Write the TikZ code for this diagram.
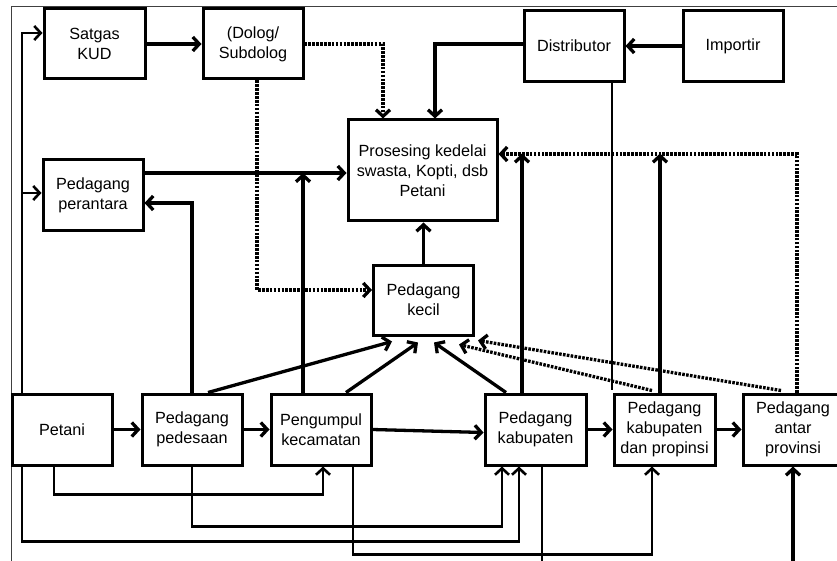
\documentclass[tikz,border=0pt]{standalone}
\usepackage{fontspec}
\setmainfont{Liberation Sans}
\usetikzlibrary{arrows.meta}

\begin{document}
\begin{tikzpicture}[
        x=1pt, y=-1pt,
        unit/.style={draw, line width=3pt, fill=white, align=center, inner sep=0pt,
            minimum width=100pt, minimum height=71pt, font=\fontsize{16.2}{20}\selectfont},
        flow/.style={line width=3.3pt, -{Straight Barb[length=6.5pt,width=14pt]}},
        thinflow/.style={line width=2.6pt, -{Straight Barb[length=6.5pt,width=14pt]}},
        plainline/.style={line width=2.6pt},
        dotflow/.style={line width=3.3pt, dash pattern=on 2.6pt off 1.3pt,
            -{Straight Barb[length=6.5pt,width=14pt]}} % dotted supply lines
    ]

    \path[use as bounding box] (0,0) rectangle (837,561);
    \clip (0,0) rectangle (837,561);

    % --- Frame ---
    \draw[line width=1pt, black!75] (837,7) -| (11,561);

    % --- Define Boxes ---
    % Top row
    \node[unit, minimum width=101pt, minimum height=70pt] (satgas) at (94.5,44) {Satgas\\KUD};
    \node[unit, minimum height=70pt] (dolog) at (253,44) {(Dolog/\\Subdolog};
    \node[unit] (dist) at (574,46) {Distributor};
    \node[unit] (imp) at (733,46) {Importir};

    % Middle
    \node[unit, minimum width=149pt, minimum height=101pt] (pros) at (422.5,170.5)
        {Prosesing kedelai\\swasta, Kopti, dsb\\Petani};
    \node[unit] (perantara) at (93,195.5) {Pedagang\\perantara};
    \node[unit, minimum height=70pt] (kecil) at (423.5,300) {Pedagang\\kecil};

    % Bottom row
    \node[unit] (petani) at (62,429.5) {Petani};
    \node[unit] (desa) at (192,429.5) {Pedagang\\pedesaan};
    \node[unit] (camat) at (321,429.5) {Pengumpul\\kecamatan};
    \node[unit, minimum width=101pt] (kab) at (535.5,429.5) {Pedagang\\kabupaten};
    \node[unit, minimum width=101pt] (kabprop) at (664.5,429.5) {Pedagang\\kabupaten\\dan propinsi};
    \node[unit] (antar) at (793,429.5) {Pedagang\\antar\\provinsi};

    % --- Helper coordinates ---
    \coordinate (jn) at (303,173);
    \coordinate (dj) at (797,154);
    \coordinate (lft) at (22,193);
    \coordinate (distend) at (612,390);
    \coordinate (antin) at (793,570);

    % --- Draw Connectors ---

    % Top row
    \draw[flow] (satgas) -- (dolog);
    \draw[flow] (imp) -- (dist);
    \draw[dotflow] (dolog.east) -| ([xshift=-39.5pt]pros.north);
    \draw[dotflow] ([xshift=4pt]dolog.south) |- ([yshift=10pt]kecil.west);
    \draw[flow] ([yshift=2pt]dist.west) -| ([xshift=12.5pt]pros.north);
    \draw[plainline] (dist.south -| distend) -- (distend);

    % Into Prosesing
    \draw[flow] (perantara.east |- jn) -- (pros.west |- jn);
    \draw[flow] (camat.north -| jn) -- (jn);
    \draw[flow] (kecil) -- (kecil |- pros.south);
    \draw[flow] ([xshift=-13.5pt]kab.north) -- ++(0,-239);
    \draw[flow] ([xshift=-4.5pt]kabprop.north) -- ++(0,-239);
    \draw[dotflow] (antar.north -| dj) |- (pros.east |- dj);

    % Petani to Satgas and perantara
    \draw[thinflow] ([xshift=-40pt]petani.north) |- ([yshift=11pt]satgas.west);
    \draw[thinflow] (lft) -- (perantara.west |- lft);
    \draw[flow] (desa.north) |- ([yshift=-7.5pt]perantara.east);

    % Into Pedagang kecil
    \draw[flow] ([xshift=16pt]desa.north) -- ([xshift=-31.5pt,yshift=-5pt]kecil.south);
    \draw[flow] ([xshift=25pt]camat.north) -- ([xshift=-5.5pt,yshift=-6pt]kecil.south);
    \draw[flow] ([xshift=-29.5pt]kab.north) -- ([xshift=10.5pt,yshift=-6pt]kecil.south);
    \draw[dotflow] ([xshift=-12.5pt,yshift=2pt]kabprop.north) -- ([xshift=35.5pt,yshift=-8pt]kecil.south);
    \draw[dotflow] ([xshift=-12pt,yshift=2pt]antar.north) -- ([xshift=54.5pt,yshift=-4pt]kecil.south);

    % Main chain
    \draw[flow] (petani) -- (desa);
    \draw[flow] (desa) -- (camat);
    \draw[flow] (camat.east) -- ([yshift=-3pt]kab.west);
    \draw[flow] (kab) -- (kabprop);
    \draw[flow] (kabprop) -- (antar);

    % Routes along the bottom
    \draw[thinflow] ([xshift=-8pt]petani.south) -- ++(0,28) -| ([xshift=2pt]camat.south);
    \draw[thinflow] (desa.south) -- ++(0,60) -| ([xshift=-33.5pt]kab.south);
    \draw[thinflow] ([xshift=-40pt]petani.south) -- ++(0,75) -| ([xshift=-16.5pt]kab.south);
    \draw[thinflow] ([xshift=32pt]camat.south) -- ++(0,88) -| ([xshift=-12.5pt]kabprop.south);
    \draw[plainline] ([xshift=6.5pt]kab.south) -- ++(0,110);
    \draw[flow] (antin) -- (antin |- antar.south);

\end{tikzpicture}
\end{document}
